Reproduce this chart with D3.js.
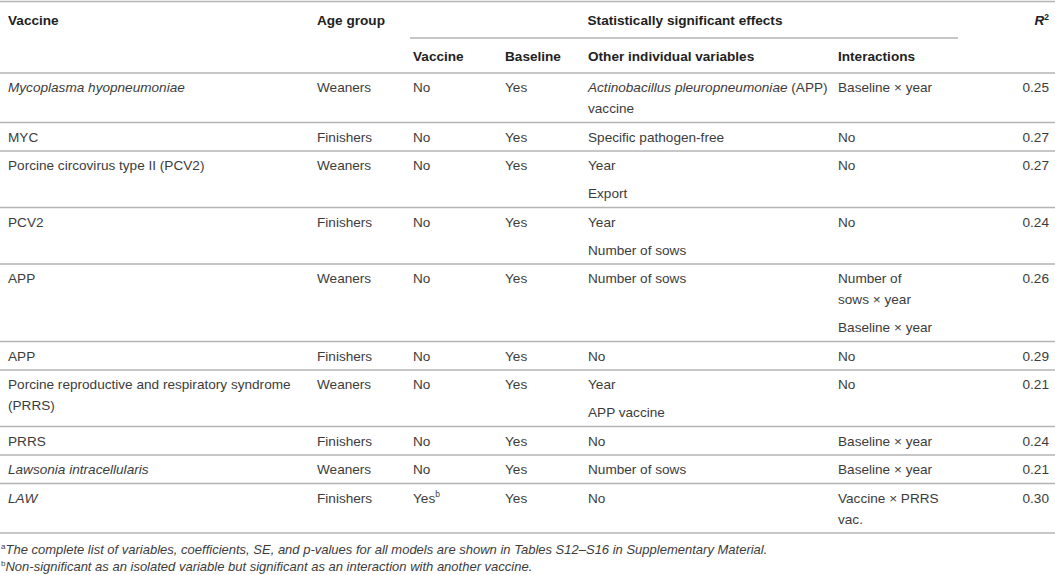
<!DOCTYPE html>
<html>
<head>
<meta charset="utf-8">
<script src="https://cdn.jsdelivr.net/npm/d3@7/dist/d3.min.js"></script>
<style>
  html, body { margin: 0; padding: 0; background: #fff; }
  svg { display: block; }
</style>
</head>
<body>
<svg id="chart" width="1055" height="575"></svg>
<script>
// ---- Data (cells: array of paragraphs; "|" = wrapped line; *..* italic; ^x superscript) ----
const columnHeaders = ["Vaccine", "Age group", "Vaccine", "Baseline", "Other individual variables", "Interactions", "*R*^2"];
const groupHeader = "Statistically significant effects";
const vaccines = [
  ["*Mycoplasma hyopneumoniae*"],
  ["MYC"],
  ["Porcine circovirus type II (PCV2)"],
  ["PCV2"],
  ["APP"],
  ["APP"],
  ["Porcine reproductive and respiratory syndrome|(PRRS)"],
  ["PRRS"],
  ["*Lawsonia intracellularis*"],
  ["*LAW*"]
];
const ageGroups = ["Weaners", "Finishers", "Weaners", "Finishers", "Weaners", "Finishers", "Weaners", "Finishers", "Weaners", "Finishers"];
const vaccineEffect = ["No", "No", "No", "No", "No", "No", "No", "No", "No", "Yes^b"];
const baselineEffect = ["Yes", "Yes", "Yes", "Yes", "Yes", "Yes", "Yes", "Yes", "Yes", "Yes"];
const otherVariables = [
  ["*Actinobacillus pleuropneumoniae* (APP)|vaccine"],
  ["Specific pathogen-free"],
  ["Year", "Export"],
  ["Year", "Number of sows"],
  ["Number of sows"],
  ["No"],
  ["Year", "APP vaccine"],
  ["No"],
  ["Number of sows"],
  ["No"]
];
const interactions = [
  ["Baseline × year"],
  ["No"],
  ["No"],
  ["No"],
  ["Number of|sows × year", "Baseline × year"],
  ["No"],
  ["No"],
  ["Baseline × year"],
  ["Baseline × year"],
  ["Vaccine × PRRS|vac."]
];
const rSquared = ["0.25", "0.27", "0.27", "0.24", "0.26", "0.29", "0.21", "0.24", "0.21", "0.30"];
const footnotes = [
  "^a*The complete list of variables, coefficients, SE, and p-values for all models are shown in Tables S12–S16 in Supplementary Material.*",
  "^b*Non-significant as an isolated variable but significant as an interaction with another vaccine.*"
];

// ---- Layout ----
const svg = d3.select("#chart");
const FONT = "'Liberation Sans', Arial, Helvetica, sans-serif";
const FS = 13.6;
const textColor = "#3c3c3c";
const headColor = "#222";
const ruleColor = "#b4b4b4";

const colKeys = d3.range(7);
const colX = d3.scaleOrdinal().domain(colKeys).range([8, 317, 413, 505, 588, 838, 1049]);
const colAnchor = k => (k === 6 ? "end" : "start");

// parse simple markup into segments
function parseSegments(str) {
  const segs = [];
  const re = /(\*[^*]+\*)|(\^[a-z0-9])|([^*^]+)/g;
  let m;
  while ((m = re.exec(str)) !== null) {
    if (m[1]) segs.push({ t: m[1].slice(1, -1), italic: true });
    else if (m[2]) segs.push({ t: m[2].slice(1), sup: true });
    else segs.push({ t: m[3] });
  }
  return segs;
}

function drawLine(g, x, y, str, opts) {
  const size = opts.size || FS;
  const t = g.append("text")
    .attr("x", x).attr("y", y)
    .attr("text-anchor", opts.anchor || "start")
    .attr("font-family", FONT)
    .attr("font-size", size)
    .attr("font-weight", opts.bold ? "bold" : "normal")
    .attr("font-style", opts.italic ? "italic" : "normal")
    .attr("fill", opts.color || textColor);
  const segs = parseSegments(str);
  segs.forEach((s, i) => {
    const ts = t.append("tspan").text(s.t);
    if (s.italic) ts.attr("font-style", "italic");
    if (s.sup) {
      ts.attr("font-size", size * 0.62).attr("dy", -size * 0.38);
      if (i < segs.length - 1) segs[i + 1].reset = size * 0.38;
    }
    if (s.reset) ts.attr("dy", s.reset);
  });
  return t;
}

// rows: cell values
const rows = vaccines.map((v, i) => [
  v, [ageGroups[i]], [vaccineEffect[i]], [baselineEffect[i]], otherVariables[i], interactions[i], [rSquared[i]]
]);

const SINGLE = 28.5, WRAP = 21, PARA = 28;
function cellHeight(paras) {
  let h = SINGLE;
  paras.forEach((p, pi) => {
    const nLines = p.split("|").length;
    h += (nLines - 1) * WRAP;
    if (pi > 0) h += PARA;
  });
  return h;
}
const rowHeights = rows.map(r => d3.max(r, c => cellHeight(c)));
const bodyTop = 73;
const rowTops = [];
rowHeights.reduce((acc, h) => { rowTops.push(acc); return acc + h; }, bodyTop);
const bodyBottom = bodyTop + d3.sum(rowHeights);

// ---- Rules ----
const rules = [
  { x1: 0, x2: 1055, y: 1.5 },
  { x1: 410, x2: 958, y: 38 },
  { x1: 0, x2: 1055, y: bodyTop }
].concat(rowTops.slice(1).map(y => ({ x1: 0, x2: 1055, y })))
 .concat([{ x1: 0, x2: 1055, y: bodyBottom }]);

svg.append("g").selectAll("line").data(rules).join("line")
  .attr("x1", d => d.x1).attr("x2", d => d.x2)
  .attr("y1", d => d.y).attr("y2", d => d.y)
  .attr("stroke", ruleColor).attr("stroke-width", 1.5);

// ---- Header ----
const hg = svg.append("g");
[0, 1, 6].forEach(k => drawLine(hg, colX(k), 25, columnHeaders[k], { bold: true, anchor: colAnchor(k), color: headColor }));
drawLine(hg, 685, 25, groupHeader, { bold: true, anchor: "middle", color: headColor });
[2, 3, 4, 5].forEach(k => drawLine(hg, colX(k), 61, columnHeaders[k], { bold: true, anchor: colAnchor(k), color: headColor }));

// ---- Body ----
const bg = svg.append("g");
rows.forEach((r, ri) => {
  const top = rowTops[ri];
  r.forEach((paras, k) => {
    let y = top + 19;
    paras.forEach((p, pi) => {
      if (pi > 0) y += PARA;
      p.split("|").forEach((ln, li) => {
        if (li > 0) y += WRAP;
        drawLine(bg, colX(k), y, ln, { anchor: colAnchor(k) });
      });
    });
  });
});

// ---- Footnotes ----
const fg = svg.append("g");
footnotes.forEach((f, i) => drawLine(fg, 1, bodyBottom + 21 + i * 17, f, { size: 13 }));
</script>
</body>
</html>
